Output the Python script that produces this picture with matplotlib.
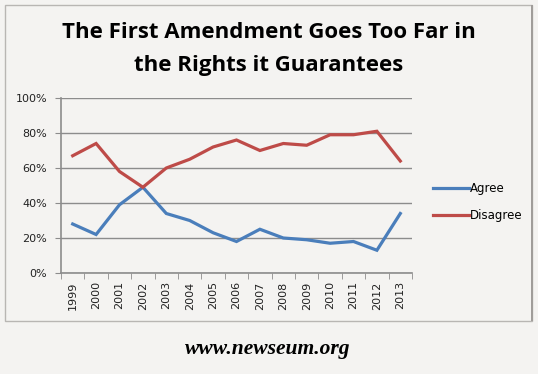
import matplotlib
matplotlib.use('Agg')
import matplotlib.pyplot as plt
from matplotlib.patches import Rectangle

# Survey results (percent)
years = ['1999', '2000', '2001', '2002', '2003', '2004', '2005', '2006',
         '2007', '2008', '2009', '2010', '2011', '2012', '2013']
agree = [28, 22, 39, 49, 34, 30, 23, 18, 25, 20, 19, 17, 18, 13, 34]
disagree = [67, 74, 58, 49, 60, 65, 72, 76, 70, 74, 73, 79, 79, 81, 64]

bg = '#f4f3f1'
fig = plt.figure(figsize=(5.38, 3.74), dpi=100, facecolor=bg)

# chart frame
fig.patches.append(Rectangle((5 / 538, 1 - 321 / 374), 527 / 538, 316 / 374,
                             transform=fig.transFigure, facecolor=bg,
                             edgecolor='#b8b6b3', lw=1.0, zorder=-2))
fig.patches.append(Rectangle((531 / 538, 1 - 321 / 374), 1.5 / 538, 316 / 374,
                             transform=fig.transFigure, facecolor='#a09d9a',
                             edgecolor='none', zorder=-1))

ax = fig.add_axes([61 / 538, 1 - 273 / 374, 351 / 538, 175 / 374])
ax.set_zorder(2)
ax.set_facecolor(bg)

x = list(range(len(years)))
ax.plot(x, agree, color='#4a7ebb', lw=2.3, label='Agree', solid_joinstyle='miter')
ax.plot(x, disagree, color='#be4b48', lw=2.3, label='Disagree', solid_joinstyle='miter')

ax.set_xlim(-0.5, len(years) - 0.5)
ax.set_ylim(0, 100)
ax.set_yticks(range(0, 101, 20))
ax.set_yticklabels([f'{v}%' for v in range(0, 101, 20)], fontsize=8,
                   family='DejaVu Sans', color='#222222')
ax.yaxis.grid(True, color='#8c8c8c', lw=1.0)
ax.set_axisbelow(True)

ax.set_xticks(x)
ax.set_xticklabels(years, rotation=90, fontsize=8, family='DejaVu Sans',
                   color='#222222')
ax.set_xticks([i - 0.5 for i in range(len(years) + 1)], minor=True)
ax.tick_params(axis='x', which='major', length=0, pad=6)
ax.tick_params(axis='x', which='minor', length=4, color='#8c8c8c')
ax.tick_params(axis='y', length=4, color='#8c8c8c', pad=6)

for side in ['top', 'right']:
    ax.spines[side].set_visible(False)
for side in ['left', 'bottom']:
    ax.spines[side].set_color('#8c8c8c')
    ax.spines[side].set_linewidth(1.2)

ax.legend(loc='center left', bbox_to_anchor=(1.03, 0.405), frameon=False,
          prop={'family': 'DejaVu Sans', 'size': 8.5}, handlelength=3.0,
          handletextpad=0.1, labelspacing=1.15)

fig.text(0.5, 1 - 33 / 374, 'The First Amendment Goes Too Far in',
         ha='center', va='center', fontsize=16, fontweight='bold', family='Open Sans')
fig.text(0.5, 1 - 66 / 374, 'the Rights it Guarantees',
         ha='center', va='center', fontsize=16, fontweight='bold', family='Open Sans')

fig.text(268 / 538, 1 - 349 / 374, 'www.newseum.org', ha='center', va='center',
         fontsize=15.5, fontweight='bold', style='italic', family='Liberation Serif')

fig.savefig('out.png', dpi=100, facecolor=bg)
